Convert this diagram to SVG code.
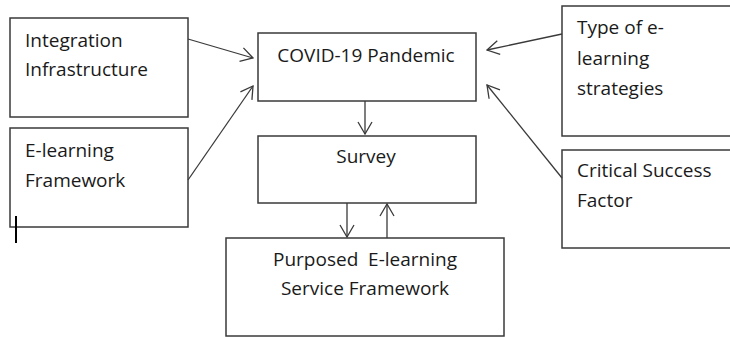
<svg xmlns="http://www.w3.org/2000/svg" width="730" height="337" viewBox="0 0 730 337">
<style>
.box{fill:#fff;stroke:#3a3a3a;stroke-width:1.5}
.t{font-family:"Open Sans","Liberation Sans",sans-serif;font-size:19px;fill:#1a1a1a}
.c{text-anchor:middle}
.ln{stroke:#3a3a3a;stroke-width:1.3;fill:none}
</style>
<defs>
<marker id="ah" viewBox="0 0 14 16" refX="13" refY="8" markerWidth="14" markerHeight="16" markerUnits="userSpaceOnUse" orient="auto">
<path d="M1,1 L13,8 L1,15" fill="none" stroke="#3a3a3a" stroke-width="1.3"/>
</marker>
</defs>
<rect width="730" height="337" fill="#fff"/>
<g id="integration"><rect class="box" x="10" y="18" width="178" height="99"/><text class="t" x="25" y="47">Integration</text><text class="t" x="25" y="76">Infrastructure</text></g>
<g id="elearning"><rect class="box" x="10" y="128" width="178" height="99"/><text class="t" x="25" y="157">E-learning</text><text class="t" x="25" y="187">Framework</text></g>
<g id="covid"><rect class="box" x="258" y="33" width="218" height="68"/><text class="t c" x="366" y="62">COVID-19 Pandemic</text></g>
<g id="survey"><rect class="box" x="258" y="136" width="218" height="67"/><text class="t c" x="366" y="163">Survey</text></g>
<g id="purposed"><rect class="box" x="226" y="238" width="278" height="98"/><text class="t c" x="365" y="266">Purposed&#160; E-learning</text><text class="t c" x="365" y="295">Service Framework</text></g>
<g id="type"><rect class="box" x="562" y="6" width="175" height="130"/><text class="t" x="577" y="34">Type of e-</text><text class="t" x="577" y="65">learning</text><text class="t" x="577" y="95">strategies</text></g>
<g id="critical"><rect class="box" x="562" y="150" width="175" height="98"/><text class="t" x="577" y="177">Critical Success</text><text class="t" x="577" y="207">Factor</text></g>
<g id="connectors">
<line class="ln" x1="188" y1="39" x2="253" y2="58" marker-end="url(#ah)"/>
<line class="ln" x1="188" y1="180" x2="253" y2="86" marker-end="url(#ah)"/>
<line class="ln" x1="562" y1="34" x2="487" y2="50" marker-end="url(#ah)"/>
<line class="ln" x1="562" y1="178" x2="487" y2="85" marker-end="url(#ah)"/>
<line class="ln" x1="365" y1="101" x2="365" y2="134" marker-end="url(#ah)"/>
<line class="ln" x1="347" y1="203" x2="347" y2="237" marker-end="url(#ah)"/>
<line class="ln" x1="387" y1="238" x2="387" y2="204" marker-end="url(#ah)"/>
</g>
<line x1="16" y1="216" x2="16" y2="243" stroke="#000" stroke-width="2"/>
</svg>
